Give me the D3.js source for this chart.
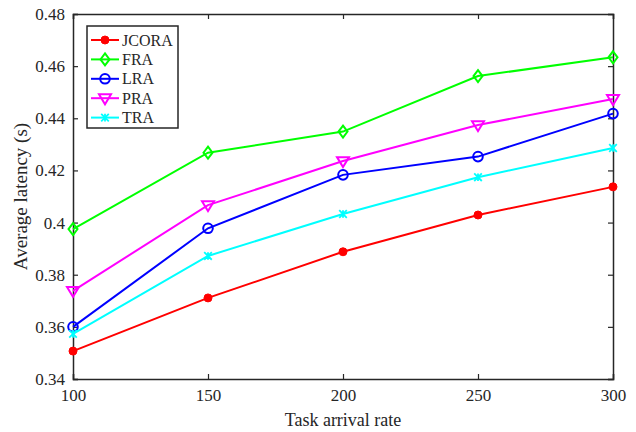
<!DOCTYPE html>
<html>
<head>
<meta charset="utf-8">
<script src="https://cdn.jsdelivr.net/npm/d3@7"></script>
<style>
  body { margin: 0; background: #fff; }
  svg { display: block; font-family: "Liberation Serif", "Times New Roman", serif; }
</style>
</head>
<body>
<div id="chart"></div>
<script>
// Data
var rates = [100, 150, 200, 250, 300];
var jcora = [0.3507, 0.3711, 0.3888, 0.4029, 0.4137];
var fra   = [0.3975, 0.4268, 0.4349, 0.4562, 0.4634];
var lra   = [0.3600, 0.3978, 0.4183, 0.4253, 0.4418];
var pra   = [0.3738, 0.4067, 0.4236, 0.4374, 0.4474];
var tra   = [0.3573, 0.3872, 0.4033, 0.4174, 0.4286];
var seriesNames = ["JCORA", "FRA", "LRA", "PRA", "TRA"];
var yTicks = [0.34, 0.36, 0.38, 0.4, 0.42, 0.44, 0.46, 0.48];

var seriesValues = [jcora, fra, lra, pra, tra];
var colors = ["#ff0000", "#00ff00", "#0000ff", "#ff00ff", "#00ffff"];
var markers = ["dot", "diamond", "circle", "triangle", "star"];

var width = 636, height = 432;
var margin = {top: 14, right: 23, bottom: 53, left: 73};

var svg = d3.select("#chart").append("svg")
    .attr("width", width)
    .attr("height", height);

var x = d3.scaleLinear().domain([100, 300]).range([margin.left, width - margin.right]);
var y = d3.scaleLinear().domain([0.34, 0.48]).range([height - margin.bottom, margin.top]);

var axisColor = "#262626";

// axes with inward ticks, mirrored on top/right
svg.append("g")
    .attr("transform", "translate(0," + y(0.34) + ")")
    .call(d3.axisBottom(x).tickValues(rates).tickSize(-5).tickPadding(10).tickFormat(d3.format("d")))
    .call(styleAxis);
svg.append("g")
    .attr("transform", "translate(0," + y(0.48) + ")")
    .call(d3.axisTop(x).tickValues(rates).tickSize(-5).tickFormat(""))
    .call(styleAxis);
svg.append("g")
    .attr("transform", "translate(" + x(100) + ",0)")
    .call(d3.axisLeft(y).tickValues(yTicks).tickSize(-5).tickPadding(8).tickFormat(function(d){ return d3.format("")(+d.toFixed(2)); }))
    .call(styleAxis);
svg.append("g")
    .attr("transform", "translate(" + x(300) + ",0)")
    .call(d3.axisRight(y).tickValues(yTicks).tickSize(-5).tickFormat(""))
    .call(styleAxis);

function styleAxis(g){
    g.select(".domain").attr("stroke", axisColor).attr("stroke-width", 1.5);
    g.selectAll(".tick line").attr("stroke", axisColor).attr("stroke-width", 1.2);
    g.selectAll(".tick text")
        .attr("fill", axisColor)
        .style("font-family", "Liberation Serif, serif")
        .style("font-size", "17px");
}

// axis labels
svg.append("text")
    .attr("x", (x(100) + x(300)) / 2)
    .attr("y", 426)
    .attr("text-anchor", "middle")
    .attr("fill", axisColor)
    .style("font-size", "18px")
    .text("Task arrival rate");

svg.append("text")
    .attr("transform", "translate(27," + (y(0.41)) + ") rotate(-90)")
    .attr("text-anchor", "middle")
    .attr("fill", axisColor)
    .style("font-size", "19px")
    .text("Average latency (s)");

/** Draw one marker of the given kind at (cx, cy) */
function drawMarker(g, kind, cx, cy, color){
    if (kind === "dot") {
        g.append("circle").attr("cx", cx).attr("cy", cy).attr("r", 4)
            .attr("fill", color).attr("stroke", color);
    } else if (kind === "circle") {
        g.append("circle").attr("cx", cx).attr("cy", cy).attr("r", 4.8)
            .attr("fill", "none").attr("stroke", color).attr("stroke-width", 2);
    } else if (kind === "diamond") {
        var s = 6;
        g.append("path")
            .attr("d", "M" + cx + "," + (cy - s) + "L" + (cx + s * 0.75) + "," + cy + "L" + cx + "," + (cy + s) + "L" + (cx - s * 0.75) + "," + cy + "Z")
            .attr("fill", "none").attr("stroke", color).attr("stroke-width", 2);
    } else if (kind === "triangle") {
        var t = 6;
        g.append("path")
            .attr("d", "M" + (cx - t) + "," + (cy - t * 0.65) + "L" + (cx + t) + "," + (cy - t * 0.65) + "L" + cx + "," + (cy + t) + "Z")
            .attr("fill", "none").attr("stroke", color).attr("stroke-width", 2);
    } else if (kind === "star") {
        var r = 3.8;
        g.append("path")
            .attr("d", "M" + (cx - r) + "," + (cy - r) + "L" + (cx + r) + "," + (cy + r) +
                       "M" + (cx - r) + "," + (cy + r) + "L" + (cx + r) + "," + (cy - r) +
                       "M" + cx + "," + (cy - r) + "L" + cx + "," + (cy + r))
            .attr("fill", "none").attr("stroke", color).attr("stroke-width", 1.8);
    }
}

var line = d3.line()
    .x(function(d, i){ return x(rates[i]); })
    .y(function(d){ return y(d); });

seriesValues.forEach(function(vals, k){
    var g = svg.append("g").attr("class", "series");
    g.append("path")
        .datum(vals)
        .attr("d", line)
        .attr("fill", "none")
        .attr("stroke", colors[k])
        .attr("stroke-width", 2);
    vals.forEach(function(v, i){
        drawMarker(g, markers[k], x(rates[i]), y(v), colors[k]);
    });
});

// legend
var leg = svg.append("g").attr("transform", "translate(87,26)");
leg.append("rect")
    .attr("width", 91)
    .attr("height", 102)
    .attr("fill", "#fff")
    .attr("stroke", axisColor)
    .attr("stroke-width", 1.5);

seriesNames.forEach(function(name, k){
    var ly = 14 + k * 19.4;
    leg.append("line")
        .attr("x1", 4).attr("x2", 32)
        .attr("y1", ly).attr("y2", ly)
        .attr("stroke", colors[k]).attr("stroke-width", 2);
    drawMarker(leg, markers[k], 18, ly, colors[k]);
    leg.append("text")
        .attr("x", 35)
        .attr("y", ly + 5.5)
        .attr("fill", axisColor)
        .style("font-size", "16px")
        .text(name);
});
</script>
</body>
</html>
